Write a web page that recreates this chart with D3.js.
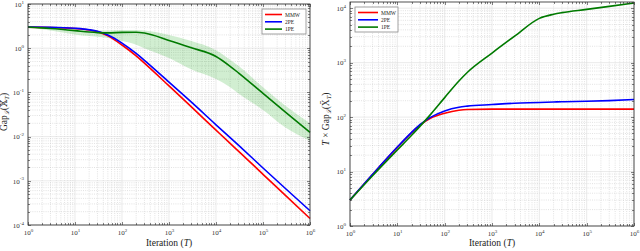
<!DOCTYPE html>
<html>
<head>
<meta charset="utf-8">
<script src="https://cdn.jsdelivr.net/npm/d3@7"></script>
<style>
  body { margin: 0; background: #fff; }
  svg text { font-family: "Liberation Serif", "DejaVu Serif", serif; }
  .tick line { shape-rendering: crispEdges; }
</style>
</head>
<body>
<svg id="chart" width="640" height="251"></svg>
<script>
const iters    = [1, 3, 10, 20, 30, 50, 100, 200, 300, 1e3, 3e3, 1e4, 2e4, 3e4, 1e5, 3e5, 1e6];

// left panel: Gap
const gapMMW   = [3.0, 2.95, 2.78, 2.58, 2.37, 1.9, 1.18, 0.67, 0.46, 0.14, 0.047, 0.014, 0.007, 0.0047, 0.0014, 0.00047, 0.00014];
const gap2PE   = [3.0, 2.97, 2.82, 2.62, 2.42, 1.98, 1.3, 0.76, 0.53, 0.17, 0.06, 0.0185, 0.0095, 0.0064, 0.00195, 0.00067, 0.00021];
const gap1PE   = [3.0, 2.8, 2.5, 2.32, 2.25, 2.22, 2.28, 2.3, 2.2, 1.5, 1.02, 0.65, 0.39, 0.277, 0.095, 0.036, 0.0125];
const gap1PEHi = [3.05, 2.92, 2.7, 2.58, 2.52, 2.52, 2.58, 2.58, 2.5, 2.0, 1.45, 0.9, 0.55, 0.4, 0.13, 0.05, 0.02];
const gap1PELo = [2.95, 2.5, 2.05, 1.88, 1.82, 1.7, 1.45, 1.2, 1.0, 0.6, 0.33, 0.2, 0.13, 0.095, 0.04, 0.016, 0.008];

// right panel: T x Gap
const tgapMMW  = [3.0, 8.85, 27.8, 51.6, 71, 95, 118, 134, 138, 140, 140, 140, 140, 140, 140, 140, 140];
const tgap2PE  = [3.0, 8.9, 28.2, 52.4, 72.6, 99, 130, 152, 159, 170, 180, 185, 189, 192, 195, 201, 210];
const tgap1PE  = [3.0, 8.4, 25, 46.4, 67.5, 111, 228, 460, 660, 1500, 3060, 6500, 7750, 8300, 9500, 10800, 12500];

const seriesNames  = ["MMW", "2PE", "1PE"];
const seriesColors = ["#ff0000", "#0000ff", "#007a00"];

const xDecades     = [1, 10, 100, 1e3, 1e4, 1e5, 1e6];
const leftDecades  = [1e-4, 1e-3, 1e-2, 1e-1, 1, 10];
const rightDecades = [1, 10, 100, 1e3, 1e4];

const svg = d3.select("#chart");

function minorsOf(decades, lo, hi) {
  const out = [];
  decades.forEach(d => { for (let k = 2; k <= 9; k++) { const v = d * k; if (v > lo && v < hi) out.push(v); } });
  return out;
}

function supLabel(sel) {
  sel.each(function (d) {
    const t = d3.select(this);
    const e = Math.round(Math.log10(d));
    t.text("");
    t.append("tspan").text("10");
    t.append("tspan").attr("dy", -3.2).attr("font-size", 5).text(e);
  });
}

function panel(opt) {
  const { x, y, xMinor, yMinor, yTicks } = opt;
  const [x0, x1] = x.range();
  const [y1, y0] = y.range();
  const g = svg.append("g");

  // minor grid (dotted)
  g.append("g").selectAll("line").data(xMinor).join("line")
    .attr("x1", d => x(d)).attr("x2", d => x(d)).attr("y1", y0).attr("y2", y1)
    .attr("stroke", "#c4c4c4").attr("stroke-width", 0.5).attr("stroke-dasharray", "1,1.2");
  g.append("g").selectAll("line").data(yMinor).join("line")
    .attr("y1", d => y(d)).attr("y2", d => y(d)).attr("x1", x0).attr("x2", x1)
    .attr("stroke", "#c4c4c4").attr("stroke-width", 0.5).attr("stroke-dasharray", "1,1.2");
  // major grid
  g.append("g").selectAll("line").data(xDecades).join("line")
    .attr("x1", d => x(d)).attr("x2", d => x(d)).attr("y1", y0).attr("y2", y1)
    .attr("stroke", "#dcdcdc").attr("stroke-width", 0.6);
  g.append("g").selectAll("line").data(yTicks).join("line")
    .attr("y1", d => y(d)).attr("y2", d => y(d)).attr("x1", x0).attr("x2", x1)
    .attr("stroke", "#dcdcdc").attr("stroke-width", 0.6);

  opt.draw(g);

  // axes with inward ticks
  const bx = g.append("g").attr("transform", `translate(0,${y1})`)
    .call(d3.axisBottom(x).tickValues(xDecades).tickSize(-3).tickPadding(5));
  const by = g.append("g").attr("transform", `translate(${x0},0)`)
    .call(d3.axisLeft(y).tickValues(yTicks).tickSize(-3).tickPadding(4));
  [bx, by].forEach(a => {
    a.select(".domain").remove();
    a.selectAll(".tick text").attr("fill", "#333").attr("font-size", 7)
      .attr("font-family", "Liberation Serif, serif").call(supLabel);
  });
  g.append("g").attr("transform", `translate(0,${y0})`)
    .call(d3.axisTop(x).tickValues(xDecades).tickSize(-3).tickFormat(""))
    .call(a => a.select(".domain").remove());
  g.append("g").attr("transform", `translate(${x1},0)`)
    .call(d3.axisRight(y).tickValues(yTicks).tickSize(-3).tickFormat(""))
    .call(a => a.select(".domain").remove());
  [[d3.axisBottom(x), y1, xMinor, 0], [d3.axisTop(x), y0, xMinor, 0], [d3.axisLeft(y), x0, yMinor, 1], [d3.axisRight(y), x1, yMinor, 1]]
    .forEach(([ax, pos, vals, vert]) => {
      g.append("g").attr("transform", vert ? `translate(${pos},0)` : `translate(0,${pos})`)
        .call(ax.tickValues(vals).tickSize(-1.6).tickFormat(""))
        .call(a => a.select(".domain").remove());
    });
  g.selectAll(".tick line").attr("stroke", "#333").attr("stroke-width", 0.6);

  // box
  g.append("rect").attr("x", x0).attr("y", y0).attr("width", x1 - x0).attr("height", y1 - y0)
    .attr("fill", "none").attr("stroke", "#262626").attr("stroke-width", 0.8);

  // x label
  const xl = g.append("text").attr("x", (x0 + x1) / 2).attr("y", 246).attr("text-anchor", "middle")
    .attr("font-size", 9.5).attr("fill", "#222");
  xl.append("tspan").text("Iteration (");
  xl.append("tspan").attr("font-style", "italic").text("T");
  xl.append("tspan").text(")");

  // y label
  const yl = g.append("text").attr("transform", `translate(${opt.ylx},${opt.yly}) rotate(-90)`)
    .attr("text-anchor", "middle").attr("font-size", 9.5).attr("fill", "#222");
  opt.ylabel(yl);

  // legend
  const L = opt.legend;
  const lg = g.append("g").attr("transform", `translate(${L.x},${L.y})`);
  lg.append("rect").attr("width", L.w).attr("height", 25).attr("fill", "#fff")
    .attr("stroke", "#8a8a8a").attr("stroke-width", 0.8);
  seriesNames.forEach((n, i) => {
    const yy = 5.5 + i * 7.3;
    lg.append("line").attr("x1", 3).attr("x2", L.lw + 3).attr("y1", yy).attr("y2", yy)
      .attr("stroke", seriesColors[i]).attr("stroke-width", 1.6);
    lg.append("text").attr("x", L.lw + 6).attr("y", yy + 2).attr("font-size", 5.5)
      .attr("font-family", "Liberation Sans, Arial, sans-serif").attr("fill", "#222").text(n);
  });
}

function drawLines(g, x, y, cols) {
  const line = d3.line().x(d => x(d[0])).y(d => y(d[1])).curve(d3.curveMonotoneX);
  cols.forEach((vals, i) => {
    g.append("path").datum(iters.map((t, k) => [t, vals[k]]))
      .attr("d", line).attr("fill", "none").attr("stroke", seriesColors[i]).attr("stroke-width", 1.6);
  });
}

// ---- left panel ----
const xL = d3.scaleLog().domain([1, 1e6]).range([28, 310]);
const yL = d3.scaleLog().domain([1e-4, 10]).range([225, 4]);
panel({
  x: xL, y: yL, yTicks: leftDecades,
  xMinor: minorsOf(xDecades, 1, 1e6), yMinor: minorsOf(leftDecades, 1e-4, 10),
  ylx: 7, yly: 112,
  legend: { x: 262, y: 9, w: 44, lw: 17 },
  ylabel: t => {
    t.append("tspan").text("Gap");
    t.append("tspan").attr("font-size", 6.5).attr("font-style", "italic").attr("dy", 2).text("ℒ");
    t.append("tspan").attr("dy", -2).text("(𝕏");
    t.append("tspan").attr("font-size", 6.5).attr("font-style", "italic").attr("dy", 2).text("T");
    t.append("tspan").attr("dy", -2).text(")");
  },
  draw: g => {
    const band = d3.area().x((d, k) => xL(iters[k])).y0(d => yL(d[0])).y1(d => yL(d[1])).curve(d3.curveMonotoneX);
    g.append("path").datum(gap1PELo.map((v, k) => [v, gap1PEHi[k]]))
      .attr("d", band).attr("fill", "#00a000").attr("fill-opacity", 0.18);
    drawLines(g, xL, yL, [gapMMW, gap2PE, gap1PE]);
  }
});

// ---- right panel ----
const xR = d3.scaleLog().domain([1, 1e6]).range([350, 634]);
const yR = d3.scaleLog().domain([1, 1.3e4]).range([226, 2]);
panel({
  x: xR, y: yR, yTicks: rightDecades,
  xMinor: minorsOf(xDecades, 1, 1e6), yMinor: minorsOf(rightDecades, 1, 1.3e4),
  ylx: 329, yly: 119,
  legend: { x: 355, y: 7, w: 43, lw: 20 },
  ylabel: t => {
    t.append("tspan").attr("font-style", "italic").text("T");
    t.append("tspan").text(" × Gap");
    t.append("tspan").attr("font-size", 6.5).attr("font-style", "italic").attr("dy", 2).text("ℒ");
    t.append("tspan").attr("dy", -2).text("(X̄");
    t.append("tspan").attr("font-size", 6.5).attr("font-style", "italic").attr("dy", 2).text("T");
    t.append("tspan").attr("dy", -2).text(")");
  },
  draw: g => drawLines(g, xR, yR, [tgapMMW, tgap2PE, tgap1PE])
});
</script>
</body>
</html>
